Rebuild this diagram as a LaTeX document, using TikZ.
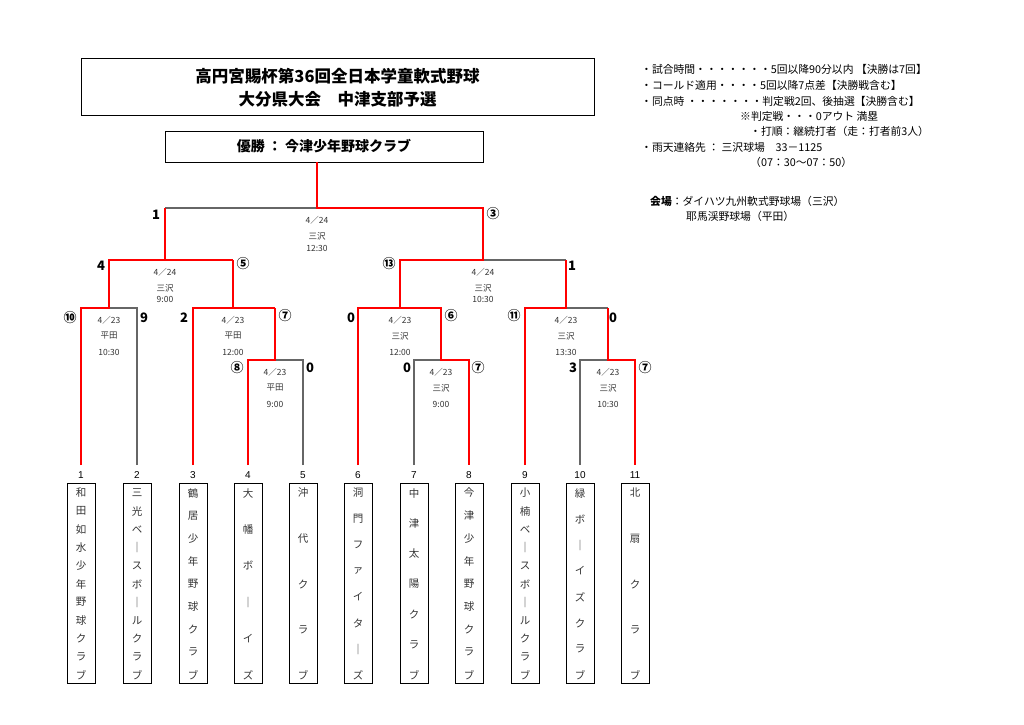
\documentclass[tikz,border=0pt]{standalone}
\usepackage{fontspec}
\setmainfont{Liberation Sans}
\newfontfamily\cjk{Noto Sans CJK JP}
\begin{document}
\begin{tikzpicture}[x=1pt,y=-1pt,
  gl/.style={draw=black!60,line width=1.1pt},
  rl/.style={draw=red,line width=2.4pt,line join=miter},
  tb/.style={draw=black,line width=0.8pt},
  tc/.style={font=\cjk\fontsize{10.5}{11}\selectfont,inner sep=0pt,text=black!80},
  num/.style={font=\fontsize{10}{11}\selectfont,inner sep=0pt},
  sc/.style={font=\cjk\bfseries\fontsize{13}{13}\selectfont,inner sep=0pt},
  mi/.style={font=\cjk\fontsize{8.5}{9}\selectfont,inner sep=0pt,text=black!80},
  nt/.style={font=\cjk\fontsize{10.8}{11}\selectfont,inner sep=0pt,anchor=west}]
\useasboundingbox (0,0) rectangle (1024,724);
% title
\node[tb,minimum width=513pt,minimum height=57pt] (title) at (337.5,86.5) {};
\node[font=\cjk\bfseries\fontsize{16.5}{18}\selectfont] (t1) at (337.5,76) {高円宮賜杯第36回全日本学童軟式野球};
\node[font=\cjk\bfseries\fontsize{16.5}{18}\selectfont] (t2) at (337.5,99) {大分県大会　中津支部予選};
\node[tb,line width=1pt,minimum width=318pt,minimum height=31pt] (champ) at (324,146.5) {};
\node[font=\cjk\bfseries\fontsize{14}{16}\selectfont] (ct) at (324,146) {優勝 ： 今津少年野球クラブ};
% notes
\node[nt] (n1) at (641,69) {・試合時間・・・・・・・5回以降90分以内 【決勝は7回】};
\node[nt] (n2) at (641,85) {・コールド適用・・・・5回以降7点差【決勝戦含む】};
\node[nt] (n3) at (641,101) {・同点時 ・・・・・・・判定戦2回、後抽選【決勝含む】};
\node[nt] (n4) at (740,116) {※判定戦・・・0アウト 満塁};
\node[nt] (n5) at (750,131) {・打順：継続打者（走：打者前3人）};
\node[nt] (n6) at (641,147) {・雨天連絡先 ： 三沢球場　33－1125};
\node[nt] (n7) at (750,162) {（07：30～07：50）};
\node[nt] (v1) at (650,201) {\textbf{会場}：ダイハツ九州軟式野球場（三沢）};
\node[nt] (v2) at (686,216) {耶馬渓野球場（平田）};
% teams
\newcommand\teamcol[4]{%
  \node[tb,minimum width=28pt,minimum height=200pt,inner sep=0pt] (box#1) at (#2,583) {};
  \node[num] (no#1) at (#2,475) {#1};
  \foreach \c [count=\i] in {#4} \node[tc] (c#1-\i) at (#2,{493+(\i-1)*182/(#3-1)}) {\c};}
\teamcol{1}{81}{11}{和,田,如,水,少,年,野,球,ク,ラ,ブ}
\teamcol{2}{137}{11}{三,光,ベ,｜,ス,ボ,｜,ル,ク,ラ,ブ}
\teamcol{3}{193}{9}{鶴,居,少,年,野,球,ク,ラ,ブ}
\teamcol{4}{248}{6}{大,幡,ボ,｜,イ,ズ}
\teamcol{5}{303}{5}{沖,代,ク,ラ,ブ}
\teamcol{6}{358}{8}{洞,門,フ,ァ,イ,タ,｜,ズ}
\teamcol{7}{414}{7}{中,津,太,陽,ク,ラ,ブ}
\teamcol{8}{469}{9}{今,津,少,年,野,球,ク,ラ,ブ}
\teamcol{9}{525}{11}{小,楠,ベ,｜,ス,ボ,｜,ル,ク,ラ,ブ}
\teamcol{10}{580}{8}{緑,ボ,｜,イ,ズ,ク,ラ,ブ}
\teamcol{11}{635}{5}{北,扇,ク,ラ,ブ}
% grey bracket
\draw[gl] (137,465)--(137,308)--(81,308);
\draw[gl] (303,465)--(303,360)--(248,360);
\draw[gl] (414,465)--(414,360)--(469,360);
\draw[gl] (580,465)--(580,360)--(635,360);
\draw[gl] (608,308)--(525,308);
\draw[gl] (165,208)--(317,208);
\draw[gl] (483,260)--(566,260);
% red bracket
\draw[rl] (81,465)--(81,308)--(109,308)--(109,260)--(233,260);
\draw[rl] (165,260)--(165,208);
\draw[rl] (248,465)--(248,360)--(275,360)--(275,308);
\draw[rl] (193,465)--(193,308)--(275,308);
\draw[rl] (233,308)--(233,260);
\draw[rl] (317,162)--(317,208)--(483,208)--(483,260)--(400,260)--(400,308);
\draw[rl] (358,465)--(358,308)--(441,308)--(441,360)--(469,360)--(469,465);
\draw[rl] (525,465)--(525,308)--(566,308)--(566,260);
\draw[rl] (608,308)--(608,360)--(635,360)--(635,465);
% match info
\newcommand\minfo[5]{%
  \node[mi] (#1a) at (#2,{#3+12}) {#4};
  \node[mi] (#1b) at (#2,{#3+28}) {#5};}
\minfo{A}{109}{308}{4／23}{平田}\node[mi] (Ac) at (109,352) {10:30};
\minfo{B}{275}{360}{4／23}{平田}\node[mi] (Bc) at (275,404) {9:00};
\minfo{C}{233}{308}{4／23}{平田}\node[mi] (Cc) at (233,352) {12:00};
\minfo{D}{165}{260}{4／24}{三沢}\node[mi] (Dc) at (165,299) {9:00};
\minfo{F}{317}{208}{4／24}{三沢}\node[mi] (Fc) at (317,248) {12:30};
\minfo{E}{400}{308}{4／23}{三沢}\node[mi] (Ec) at (400,352) {12:00};
\minfo{H}{441}{360}{4／23}{三沢}\node[mi] (Hc) at (441,404) {9:00};
\minfo{I}{483}{260}{4／24}{三沢}\node[mi] (Ic) at (483,299) {10:30};
\minfo{G}{566}{308}{4／23}{三沢}\node[mi] (Gc) at (566,352) {13:30};
\minfo{K}{608}{360}{4／23}{三沢}\node[mi] (Kc) at (608,404) {10:30};
% scores
\node[sc] (s1) at (70,318) {⑩}; \node[sc] (s2) at (144,318) {9};
\node[sc] (s3) at (184,318) {2}; \node[sc] (s4) at (285,316) {⑦};
\node[sc] (s5) at (237,368) {⑧}; \node[sc] (s6) at (310,368) {0};
\node[sc] (s7) at (101,266) {4}; \node[sc] (s8) at (243,264) {⑤};
\node[sc] (s9) at (156,215) {1}; \node[sc] (s10) at (493,214) {③};
\node[sc] (s11) at (389,264) {⑬}; \node[sc] (s12) at (572,266) {1};
\node[sc] (s13) at (351,318) {0}; \node[sc] (s14) at (451,316) {⑥};
\node[sc] (s15) at (407,368) {0}; \node[sc] (s16) at (478,368) {⑦};
\node[sc] (s17) at (514,316) {⑪}; \node[sc] (s18) at (613,318) {0};
\node[sc] (s19) at (573,368) {3}; \node[sc] (s20) at (645,368) {⑦};
\end{tikzpicture}
\end{document}
